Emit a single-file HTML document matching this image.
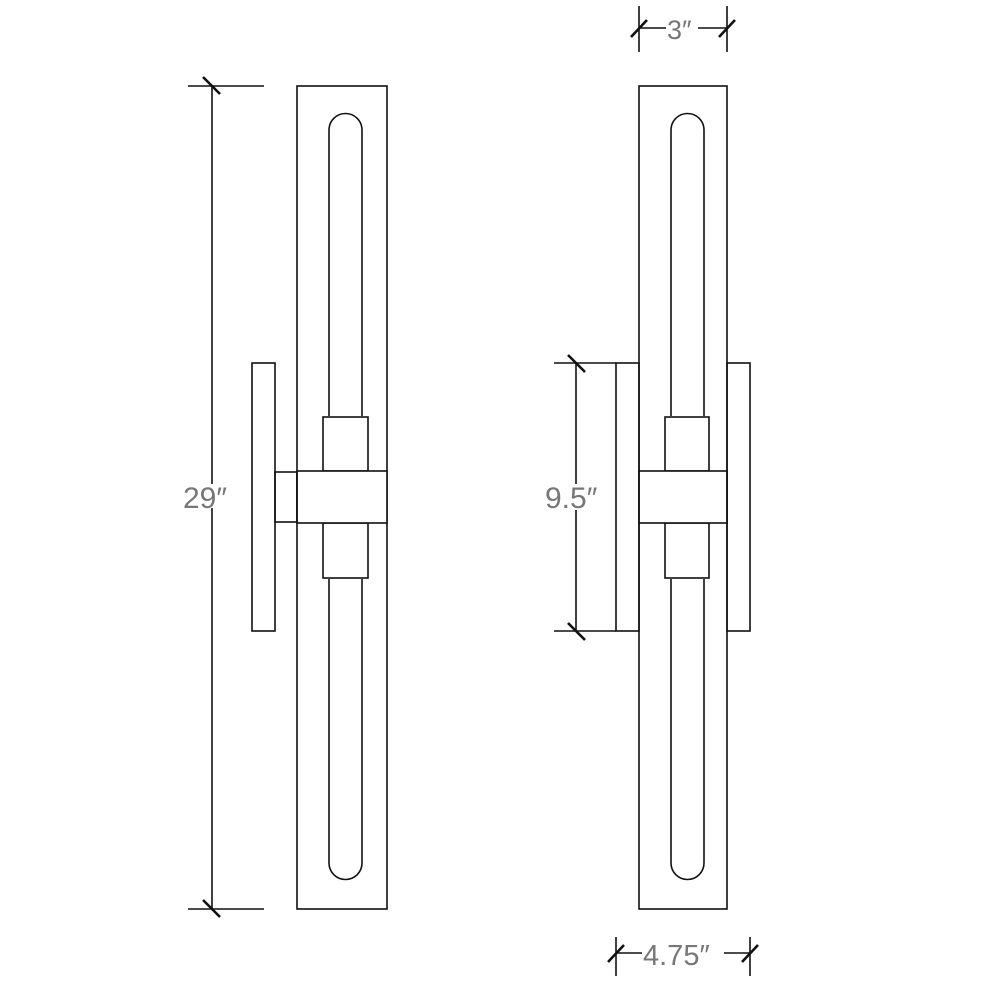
<!DOCTYPE html>
<html><head><style>html,body{margin:0;padding:0;background:#fff}svg{display:block}</style></head>
<body>
<svg width="1000" height="1000" viewBox="0 0 1000 1000" xmlns="http://www.w3.org/2000/svg">
<g fill="none" stroke="#111" stroke-width="1.6">
<!-- LEFT VIEW -->
<rect x="297" y="86" width="90" height="823"/>
<path d="M329,416 V130 A16.5,16.5 0 0 1 362,130 V416"/>
<path d="M329,579 V863 A16.5,16.5 0 0 0 362,863 V579"/>
<rect x="323" y="417" width="45" height="54"/>
<rect x="323" y="523" width="45" height="55"/>
<rect x="297" y="471" width="90" height="52" fill="#fff"/>
<rect x="252" y="363" width="23" height="268"/>
<rect x="275" y="472" width="22" height="50"/>
<!-- left dimension -->
<line x1="188" y1="86" x2="264" y2="86"/>
<line x1="188" y1="909" x2="264" y2="909"/>
<line x1="212" y1="86" x2="212" y2="484"/>
<line x1="212" y1="508" x2="212" y2="909"/>
<line x1="203" y1="77" x2="220" y2="94" stroke-width="2.6"/>
<line x1="203" y1="900" x2="220" y2="917" stroke-width="2.6"/>

<!-- RIGHT VIEW -->
<rect x="639" y="86" width="88" height="823"/>
<path d="M671,416 V130 A16.5,16.5 0 0 1 704,130 V416"/>
<path d="M671,579 V863 A16.5,16.5 0 0 0 704,863 V579"/>
<rect x="665" y="417" width="44" height="54"/>
<rect x="665" y="523" width="44" height="55"/>
<rect x="639" y="471" width="88" height="52" fill="#fff"/>
<rect x="616" y="363" width="23" height="268"/>
<rect x="727" y="363" width="23" height="268"/>
<!-- 9.5 dim -->
<line x1="554" y1="363" x2="616" y2="363"/>
<line x1="554" y1="631" x2="616" y2="631"/>
<line x1="576" y1="363" x2="576" y2="484"/>
<line x1="576" y1="510" x2="576" y2="631"/>
<line x1="568" y1="355" x2="585" y2="372" stroke-width="2.6"/>
<line x1="568" y1="623" x2="585" y2="640" stroke-width="2.6"/>
<!-- 3" dim -->
<line x1="639" y1="6" x2="639" y2="52"/>
<line x1="727" y1="6" x2="727" y2="52"/>
<line x1="639" y1="28" x2="666" y2="28"/>
<line x1="698" y1="28" x2="727" y2="28"/>
<line x1="631" y1="37" x2="647" y2="20" stroke-width="2.6"/>
<line x1="719" y1="37" x2="735" y2="20" stroke-width="2.6"/>
<!-- 4.75 dim -->
<line x1="616" y1="937" x2="616" y2="976"/>
<line x1="750" y1="937" x2="750" y2="976"/>
<line x1="616" y1="953" x2="642" y2="953"/>
<line x1="724" y1="953" x2="750" y2="953"/>
<line x1="608" y1="962" x2="624" y2="945" stroke-width="2.6"/>
<line x1="742" y1="962" x2="758" y2="945" stroke-width="2.6"/>
</g>
<g font-family="Liberation Sans, sans-serif" fill="#777" font-size="30">
<text x="183" y="508">29″</text>
<text x="545" y="508">9.5″</text>
<text x="667" y="39" font-size="27">3″</text>
<text x="643" y="965" font-size="29">4.75″</text>
</g>
</svg>
</body></html>
